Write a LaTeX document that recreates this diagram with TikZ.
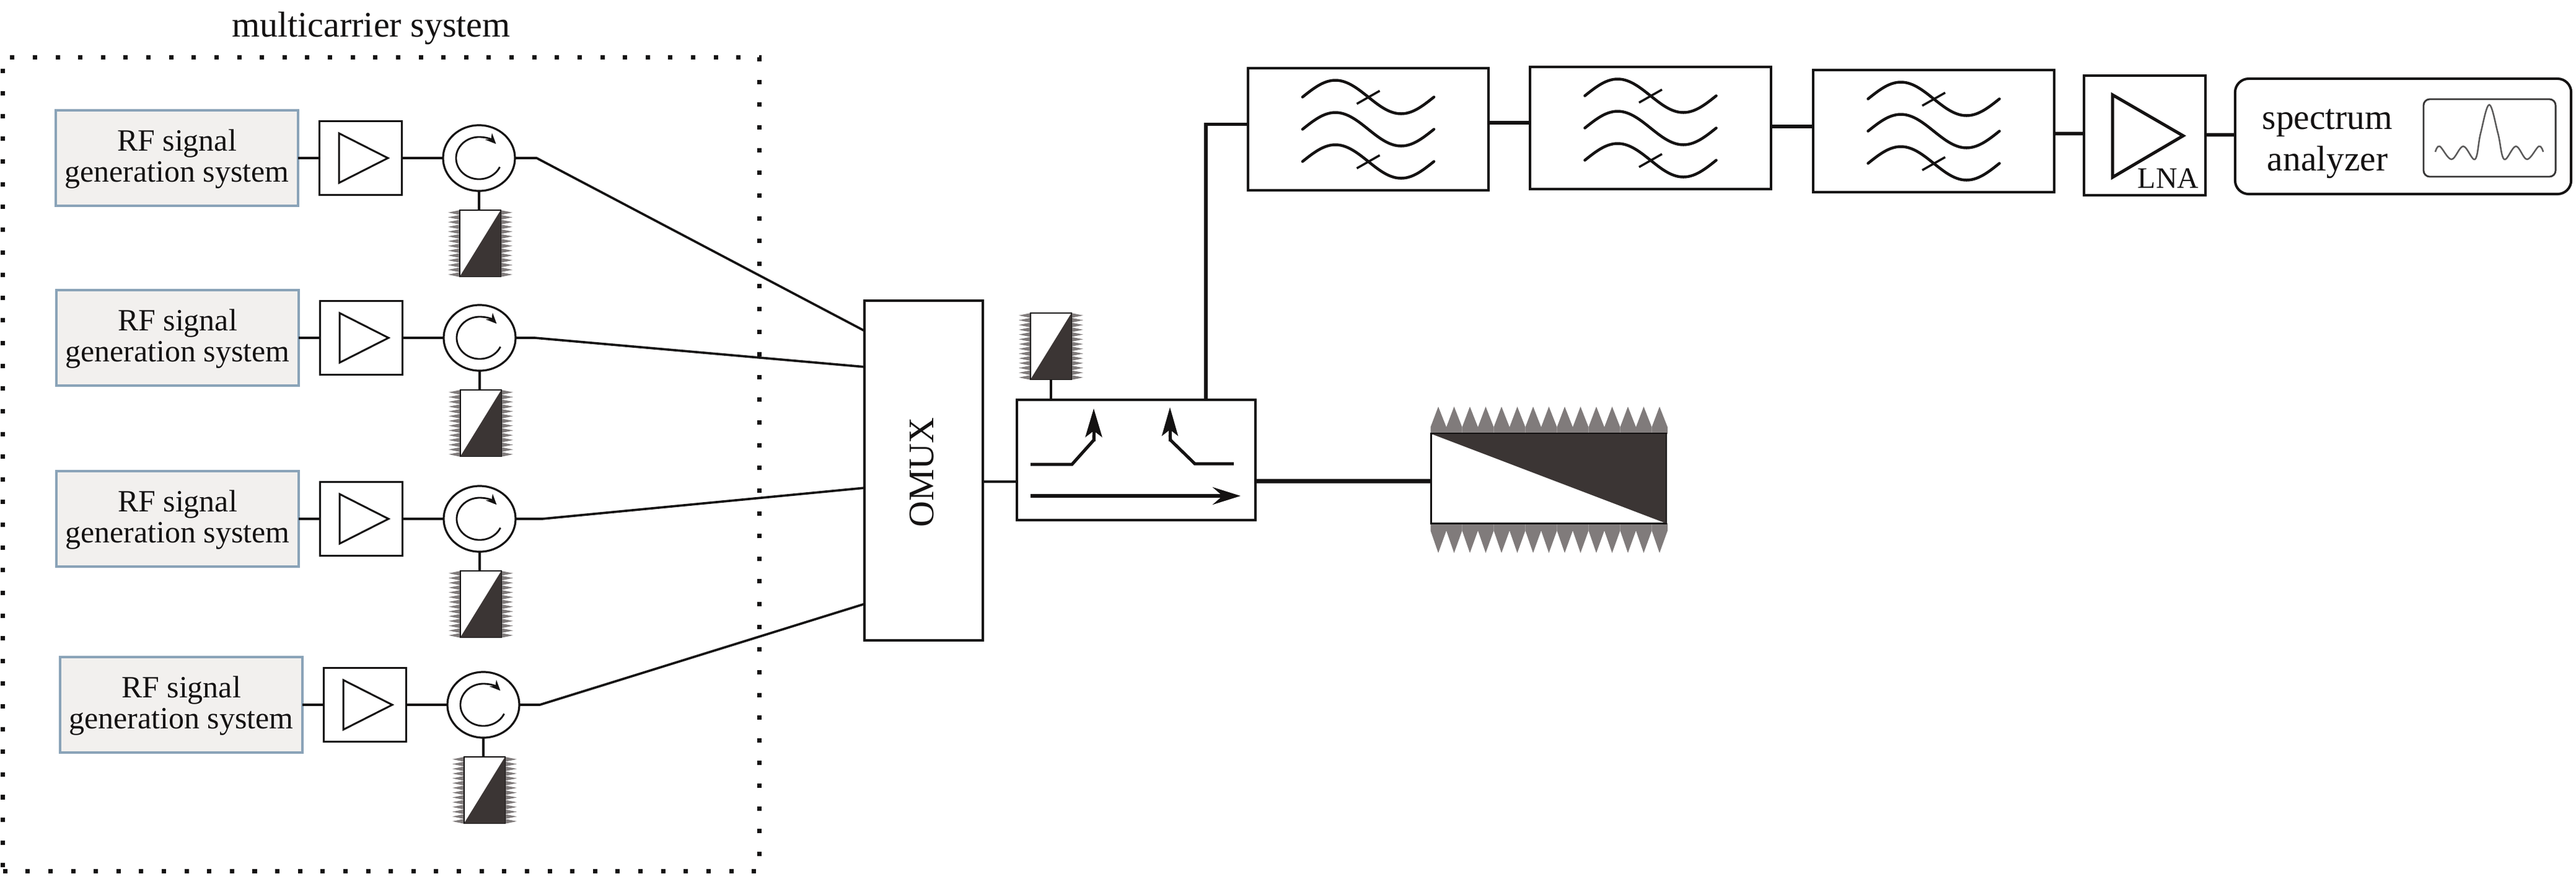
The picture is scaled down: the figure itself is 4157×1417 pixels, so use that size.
\documentclass[tikz,border=0pt]{standalone}
\usepackage{fontspec}
\setmainfont{Liberation Serif}
\usetikzlibrary{shapes.geometric,arrows.meta}
\definecolor{ink}{HTML}{141212}
\definecolor{wedge}{HTML}{3B3534}
\definecolor{toothgray}{HTML}{807B7B}
\definecolor{rffill}{HTML}{F2F0EE}
\definecolor{rfedge}{HTML}{8AA3B8}
\tikzset{
  x=0.01cm,y=-0.01cm,
  every node/.style={outer sep=0pt,inner sep=0pt,text=ink},
  conn/.style={draw=ink,line width=0.037cm},
  connthin/.style={draw=ink,line width=0.033cm},
  connthick/.style={draw=ink,line width=0.058cm},
  connheavy/.style={draw=ink,line width=0.07cm},
  rfbox/.style={draw=rfedge,fill=rffill,line width=0.035cm,minimum width=3.91cm,minimum height=1.54cm,align=center,font=\fontsize{14.2}{14.2}\selectfont},
  ampbox/.style={draw=ink,fill=white,line width=0.03cm,minimum width=1.32cm,minimum height=1.18cm},
  circring/.style={ellipse,draw=ink,fill=white,line width=0.032cm,minimum width=1.16cm,minimum height=1.06cm},
  termbody/.style={draw=ink,fill=white,line width=0.02cm,minimum width=0.66cm,minimum height=1.07cm},
  omuxbox/.style={draw=ink,fill=white,line width=0.04cm,minimum width=1.90cm,minimum height=5.48cm},
  couplerbox/.style={draw=ink,fill=white,line width=0.04cm,minimum width=3.85cm,minimum height=1.94cm},
  filterbox/.style={draw=ink,fill=white,line width=0.04cm,minimum width=3.88cm,minimum height=1.97cm},
  lnabox/.style={draw=ink,fill=white,line width=0.035cm,minimum width=1.96cm,minimum height=1.93cm},
  sabox/.style={draw=ink,fill=white,line width=0.04cm,rounded corners=0.22cm,minimum width=5.42cm,minimum height=1.86cm},
  screenbox/.style={draw=ink!85,fill=white,line width=0.028cm,rounded corners=0.1cm,minimum width=2.13cm,minimum height=1.25cm},
  loadbox/.style={draw=ink,fill=white,line width=0.03cm,minimum width=3.78cm,minimum height=1.44cm},
  dotframe/.style={draw=ink,line width=0.07cm,dash pattern=on 0.07cm off 0.296cm,minimum width=12.2cm,minimum height=13.12cm},
  guide/.style={draw=ink,line width=0.05cm},
  term/.pic={
    \foreach \k in {0,...,13}{
      \fill[toothgray] (-33,{\k*7.7}) -- (-52,{\k*7.7+3.8}) -- (-33,{\k*7.7+7.7}) -- cycle;
      \fill[toothgray] (33,{\k*7.7}) -- (52,{\k*7.7+3.8}) -- (33,{\k*7.7+7.7}) -- cycle;
    }
    \node[termbody] (-body) at (0,53.5) {};
    \fill[wedge] (-33,107) -- (33,0) -- (33,107) -- cycle;
  },
  filterwaves/.pic={
    \foreach \wy in {-52,0,52}{
      \draw[line width=0.045cm,draw=ink,line cap=round] plot[domain=-106:106,samples=41,smooth] (\x,{\wy+27*sin(\x/106*180)});
    }
    \foreach \wy in {-52,52}{
      \draw[line width=0.035cm,draw=ink] (-18.5,\wy+11) -- (18.5,\wy-10);
    }
  },
}
\begin{document}
\begin{tikzpicture}
\useasboundingbox (0,0) rectangle (4157,1417);
\fill[white] (0,0) rectangle (4157,1417);

\node[font=\fontsize{16.5}{16.5}\selectfont,anchor=base] (title) at (599,59) {multicarrier system};
\node[dotframe] (frame) at (615,749) {};

% OMUX
\node[omuxbox] (omux) at (1490.5,759) {};
\node[rotate=90,font=\fontsize{16.5}{16.5}\selectfont] (omuxlabel) at (1488,762) {OMUX};

% the four transmit chains
\foreach \i/\rx/\ry/\bend/\inshift in {1/0/255/35/2.25cm,2/1/545/31/1.67cm,3/1/837/43/-0.28cm,4/7/1137/33/-2.15cm}{
  \begin{scope}[shift={(\rx,\ry)}]
    \node[rfbox] (rf\i) at (285.5,0) {\rule{0pt}{0.38cm}RF signal\\generation system};
    \node[ampbox] (amp\i) at (582,0) {};
    \draw[line width=0.03cm,draw=ink,line join=miter] (547,-40) -- (626,0) -- (547,40) -- cycle;
    \node[circring] (circ\i) at (773,0) {};
    \draw[line width=0.028cm,draw=ink,-{Stealth[length=0.17cm,width=0.15cm]}]
      (circ\i.center) ++(-25:0.37cm and 0.34cm)
      arc[start angle=-25,end angle=-318,x radius=0.37cm,y radius=0.34cm];
    \pic (t\i) at (775,84) {term};
  \end{scope}
  \draw[conn] (rf\i.east) -- (amp\i.west);
  \draw[conn] (amp\i.east) -- (circ\i.west);
  \draw[connthin] (circ\i.south) -- (circ\i.south |- t\i-body.north);
  \draw[conn,line join=round] (circ\i.east) -- ++(\bend,0) -- ([yshift=\inshift]omux.west);
}

% coupler
\node[couplerbox] (coupler) at (1833.5,742) {};
\draw[guide] (1663,749) -- (1730,749) -- (1765,710) -- (1765,702);
\draw[guide,-{Stealth[length=0.46cm,width=0.27cm,inset=0.1cm]}] (1765,712) -- (1765,659);
\draw[guide] (1991,748) -- (1928,748) -- (1889,710) -- (1888,702);
\draw[guide,-{Stealth[length=0.46cm,width=0.26cm,inset=0.1cm]}] (1888,712) -- (1888,657);
\draw[guide,line width=0.058cm,-{Stealth[length=0.45cm,width=0.28cm,inset=0.16cm]}] (1663,800) -- (2002,800);
\draw[conn] ([yshift=-0.18cm]omux.east) -- ([yshift=-0.18cm]omux.east -| coupler.west);

% coupler port termination
\pic (t0) at (1696,505) {term};
\draw[connthin] (t0-body.south) -- (t0-body.south |- coupler.north);

% high power load
\foreach \k in {0,...,14}{
  \fill[toothgray] ({2308.5+25.5*\k},700) -- ({2308.5+25.5*\k},689) -- ({2321+25.5*\k},656) -- ({2334+25.5*\k},689) -- ({2334+25.5*\k},700) -- cycle;
  \fill[toothgray] ({2308.5+25.5*\k},844) -- ({2308.5+25.5*\k},856) -- ({2321+25.5*\k},892) -- ({2334+25.5*\k},856) -- ({2334+25.5*\k},844) -- cycle;
}
\node[loadbox] (load) at (2499,772) {};
\fill[wedge] (2310,700) -- (2688,700) -- (2688,844) -- cycle;
\draw[connheavy] ([yshift=-0.34cm]coupler.east) -- ([yshift=-0.04cm]load.west);

% filters
\node[filterbox] (f1) at (2208,208.5) {};
\pic at (2208,208.5) {filterwaves};
\node[filterbox] (f2) at (2663.5,206.5) {};
\pic at (2663.5,206.5) {filterwaves};
\node[filterbox] (f3) at (3120.5,211.5) {};
\pic at (3120.5,211.5) {filterwaves};

% LNA
\node[lnabox] (lna) at (3461,218.5) {};
\draw[line width=0.05cm,draw=ink,line join=miter] (3409,153) -- (3523,219) -- (3409,286) -- cycle;
\node[font=\fontsize{13.6}{13.6}\selectfont,anchor=base] (lnalabel) at (3499,303) {LNA};

% spectrum analyzer
\node[sabox] (sa) at (3878,220) {};
\node[font=\fontsize{16.3}{16.3}\selectfont,anchor=base] (sa1) at (3756,208) {spectrum};
\node[font=\fontsize{16.3}{16.3}\selectfont,anchor=base] (sa2) at (3756,275) {analyzer};
\node[screenbox] (scr) at (4017.5,222.5) {};
\draw[line width=0.025cm,draw=ink!70] plot[smooth,tension=0.6] coordinates {(3930,245) (3937,236) (3956,257) (3975,236) (3994,257) (4003,215) (4017,169) (4031,215) (4041,257) (4060,236) (4078,257) (4097,236) (4104,245)};

% chain along the top
\draw[connthick] ([xshift=1.125cm]coupler.north) |- ([yshift=0.08cm]f1.west);
\draw[connthick] ([yshift=0.105cm]f1.east) -- ([yshift=0.085cm]f2.west);
\draw[connthick] ([yshift=0.025cm]f2.east) -- ([yshift=0.075cm]f3.west);
\draw[connthick] ([yshift=-0.04cm]f3.east) -- ([yshift=0.03cm]lna.west);
\draw[connthick] ([yshift=0.01cm]lna.east) -- ([yshift=0.025cm]sa.west);
\end{tikzpicture}
\end{document}
